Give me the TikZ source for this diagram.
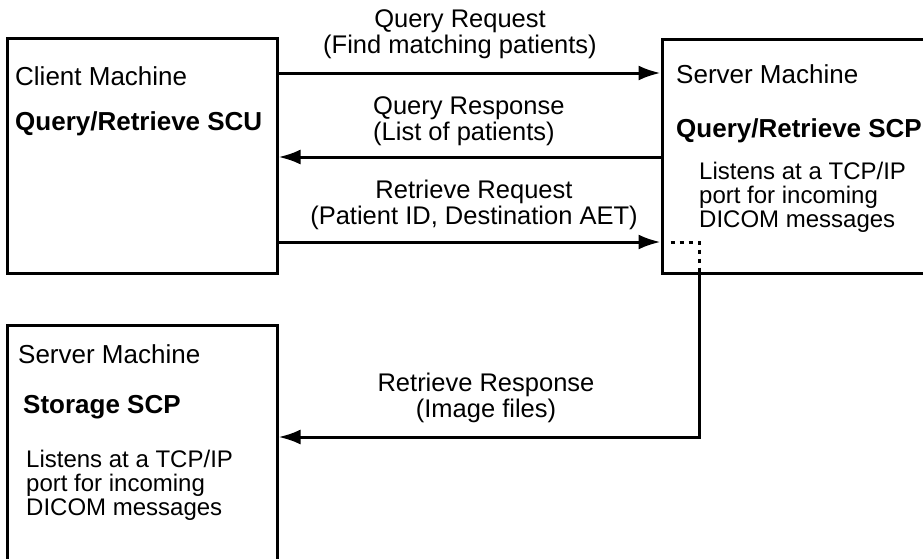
\documentclass[tikz,border=0pt]{standalone}
\usepackage{fontspec}
\setmainfont{Liberation Sans}
\usetikzlibrary{arrows.meta,positioning}

\tikzset{
  box/.style={draw, line width=3pt, inner sep=0pt},
  msg/.style={line width=3pt, -{Latex[length=22pt,width=15pt]}},
  dotline/.style={line width=3pt, dash pattern=on 4pt off 5pt},
  lbl/.style={inner sep=0pt, align=center, font=\fontsize{25.5}{26}\selectfont},
  title/.style={inner sep=0pt, anchor=base west, font=\fontsize{26}{26}\selectfont},
  btitle/.style={title, font=\fontsize{26}{26}\selectfont\bfseries},
  body/.style={inner sep=0pt, anchor=north west, align=left, font=\fontsize{24}{24}\selectfont}
}

\begin{document}
\begin{tikzpicture}[x=1pt,y=-1pt]
\useasboundingbox (0,0) rectangle (923,558);
\clip (0,0) rectangle (923,558);

% machines
\node[box, minimum width=270pt, minimum height=235pt] (client) at (142,155.5) {};
\node[box, minimum width=338pt, minimum height=234pt] (server) at (831,156) {};
\node[box, minimum width=270pt, minimum height=275pt] (storage) at (142,462.5) {};

\node[title] (clientname) at (15,85) {Client Machine};
\node[btitle] (scu) at (15,130) {Query/Retrieve SCU};

\node[title] (servername) at (676,83) {Server Machine};
\node[btitle] (qrscp) at (676,137) {Query/Retrieve SCP};
\node[body] (qrlisten) at (699,162) {Listens at a TCP/IP\\port for incoming\\DICOM messages};

\node[title] (storename) at (18,363) {Server Machine};
\node[btitle] (stscp) at (23,413) {Storage SCP};
\node[body] (stlisten) at (26,450) {Listens at a TCP/IP\\port for incoming\\DICOM messages};

% message levels
\coordinate (qreq) at (0,73);
\coordinate (qresp) at (0,157);
\coordinate (rreq) at (0,242);
\coordinate (rresp) at (0,437);
\coordinate (xr) at (699,0);

\draw[msg] (client.east |- qreq) -- (server.west |- qreq);
\draw[msg] (server.west |- qresp) -- (client.east |- qresp);
\draw[msg] (client.east |- rreq) -- (server.west |- rreq);
\draw[dotline] ([xshift=10pt]server.west |- rreq) -| (server.south -| xr);
\draw[msg] (server.south -| xr) |- (storage.east |- rresp);

\node[lbl, anchor=south] (qreqlbl) at (460,59) {Query Request\\(Find matching patients)};
\node[lbl, anchor=south west, align=left] (qresplbl) at (373,146) {Query Response\\(List of patients)};
\node[lbl, anchor=south] (rreqlbl) at (474,230) {Retrieve Request\\(Patient ID, Destination AET)};
\node[lbl, anchor=south] (rresplbl) at (486,423) {Retrieve Response\\(Image files)};
\end{tikzpicture}
\end{document}
